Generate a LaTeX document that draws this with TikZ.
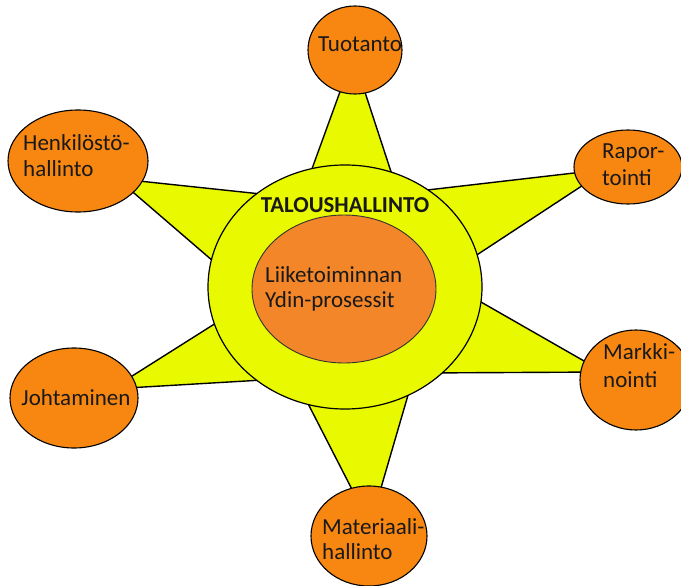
\documentclass[tikz,border=0pt]{standalone}
\usepackage{fontspec}
\setmainfont{Carlito}
\usetikzlibrary{shapes.geometric}
\definecolor{circorange}{RGB}{248,135,18}
\definecolor{coreorange}{RGB}{242,134,40}
\definecolor{staryellow}{RGB}{232,249,0}
\begin{document}
\begin{tikzpicture}[x=1pt,y=-1pt,
  spike/.style={fill=staryellow,draw=black,line width=1.4pt,line join=miter},
  bubble/.style={ellipse,fill=circorange,draw=black,line width=1.1pt,inner sep=0pt},
  lbl/.style={font=\fontsize{23}{27}\selectfont,text=black!90,inner sep=0pt,anchor=base west}]
\useasboundingbox (0,0) rectangle (681,586);
\fill[white] (0,0) rectangle (681,586);
% spikes
\draw[spike] (305,188) -- (345,78) -- (361,80) -- (397,190) -- cycle;
\draw[spike] (120,179) -- (280,196) -- (235,280) -- (120,181) -- cycle;
\draw[spike] (410,192) -- (600,170) -- (600,174) -- (460,266) -- cycle;
\draw[spike] (460,290) -- (605,373) -- (605,372) -- (420,373) -- cycle;
\draw[spike] (235,311) -- (110,390) -- (110,389) -- (280,379) -- cycle;
\draw[spike] (300,388) -- (360,505) -- (376,505) -- (413,378) -- cycle;
% central ring
\node[ellipse,fill=staryellow,draw=black,line width=1.2pt,minimum width=274pt,minimum height=244pt,inner sep=0pt] (ring) at (345,287) {};
\node[ellipse,fill=coreorange,draw=black!80,line width=0.9pt,minimum width=184pt,minimum height=148pt,inner sep=0pt] (core) at (344,289) {};
% outer bubbles
\node[bubble,minimum width=94pt,minimum height=88pt] (tuo) at (355,50) {};
\node[bubble,minimum width=140pt,minimum height=102pt] (hen) at (78,161) {};
\node[bubble,minimum width=108pt,minimum height=74pt] (rap) at (628,167) {};
\node[bubble,minimum width=112pt,minimum height=100pt] (mar) at (636,380) {};
\node[bubble,minimum width=128pt,minimum height=100pt] (joh) at (74,398) {};
\node[bubble,minimum width=116pt,minimum height=100pt] (mat) at (369,536) {};
% labels
\node[lbl,font=\fontsize{22.8}{27}\bfseries,anchor=base] (talous) at (345,212) {TALOUSHALLINTO};
\node[lbl] (lt1) at (265,282) {Liiketoiminnan};
\node[lbl] (lt2) at (265,307) {Ydin-prosessit};
\node[lbl] (tuot) at (318,52) {Tuotanto};
\node[lbl] (hen1) at (23,150) {Henkilöstö-};
\node[lbl] (hen2) at (23,176) {hallinto};
\node[lbl] (rap1) at (602,158) {Rapor-};
\node[lbl] (rap2) at (602,185) {tointi};
\node[lbl] (mar1) at (603,359) {Markki-};
\node[lbl] (mar2) at (603,387) {nointi};
\node[lbl,anchor=base] (joht) at (76,405) {Johtaminen};
\node[lbl] (mat1) at (322,534) {Materiaali-};
\node[lbl] (mat2) at (322,559) {hallinto};
\end{tikzpicture}
\end{document}
